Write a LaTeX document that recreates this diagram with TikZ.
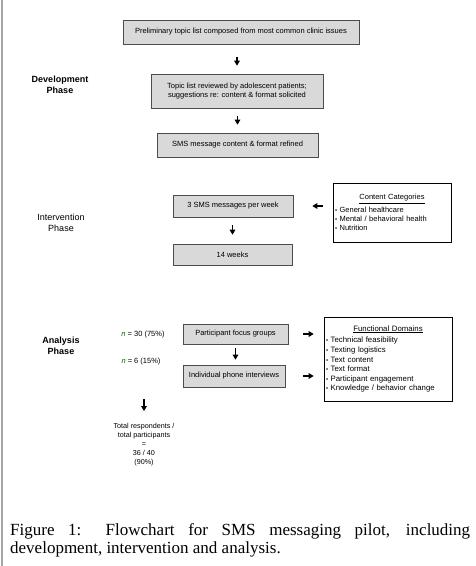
\documentclass[tikz,border=0pt]{standalone}
\usepackage{fontspec}
\setmainfont{Liberation Sans}
\newfontfamily\capfont{Liberation Serif}
\usetikzlibrary{arrows.meta, shadows, calc, positioning}
\tikzstyle{stage}=[rectangle, draw=black!70, fill=black!15, line width=0.6pt, inner sep=2pt, align=center, font=\fontsize{7.5}{9}\selectfont, drop shadow={shadow xshift=0.8pt, shadow yshift=-0.8pt, fill=black!60, opacity=0.5}]
\tikzstyle{listbox}=[rectangle, draw=black, fill=white, line width=0.6pt, inner xsep=1pt, inner ysep=0pt, align=left, drop shadow={shadow xshift=0.8pt, shadow yshift=-0.8pt, fill=black!60, opacity=0.5}]
\tikzstyle{phase}=[align=center, font=\fontsize{9}{11}\selectfont]
\tikzstyle{flow}=[-{Triangle[length=5pt, width=5.5pt]}, line width=1.4pt]
\newcommand{\itm}{{\fontsize{6}{6}\selectfont\textbullet}\ }

\begin{document}
\begin{tikzpicture}[x=1pt, y=-1pt]

\useasboundingbox (0,0) rectangle (476,566);
\fill[white] (0,0) rectangle (476,566);
\draw[black!35, line width=2pt] (2,0) -- (2,566);

% phase labels
\node[phase, font=\fontsize{9}{11}\selectfont\bfseries] (dev) at (60,85) {Development\\Phase};
\node[phase] (int) at (61,223) {Intervention\\Phase};
\node[phase, font=\fontsize{9}{11}\selectfont\bfseries] (ana) at (61,346) {Analysis\\Phase};

% development
\node[stage, minimum width=236pt, minimum height=24pt] (prelim) at (241,32) {Preliminary topic list composed from most common clinic issues};
\node[stage, minimum width=172pt, minimum height=34pt] (review) at (237,91) {Topic list reviewed by adolescent patients;\\suggestions re: content \& format solicited};
\node[stage, minimum width=161pt, minimum height=24pt] (refine) at (237.5,145) {SMS message content \& format refined};

% intervention
\node[stage, minimum width=120pt, minimum height=22pt] (perweek) at (233,206) {3 SMS messages per week};
\node[stage, minimum width=119pt, minimum height=21pt] (weeks) at (232.5,254.5) {14 weeks};
\node[listbox, minimum width=118pt, minimum height=59pt, text width=114pt, font=\fontsize{7.5}{8.7}\selectfont] (content) at (392,212.5) {\makebox[114pt]{\underline{Content Categories}}\\[3pt]\itm General healthcare\\\itm Mental / behavioral health\\\itm Nutrition};

% analysis
\node[font=\fontsize{7.5}{9}\selectfont] (n30) at (143,335) {\textcolor{green!40!black}{\textit{n}} = 30 (75\%)};
\node[font=\fontsize{7.5}{9}\selectfont] (n6) at (141,362) {\textcolor{green!40!black}{\textit{n}} = 6 (15\%)};
\node[stage, minimum width=105pt, minimum height=20pt] (focus) at (235.5,334) {Participant focus groups};
\node[stage, minimum width=102pt, minimum height=22pt] (phone) at (234,376) {Individual phone interviews};
\node[listbox, minimum width=128pt, minimum height=84pt, text width=124pt, font=\fontsize{7.8}{9.6}\selectfont] (domains) at (388,359) {\makebox[124pt]{\underline{Functional Domains}}\\[2pt]\itm Technical feasibility\\\itm Texting logistics\\\itm Text content\\\itm Text format\\\itm Participant engagement\\\itm Knowledge / behavior change};
\node[align=center, font=\fontsize{7.2}{9}\selectfont] (total) at (144,445) {Total respondents /\\total participants\\=\\36 / 40\\(90\%)};

% arrows
\draw[flow, shorten <=13pt, shorten >=8pt] (prelim.south -| review.north) -- (review.north);
\draw[flow, shorten <=8pt, shorten >=8pt] (review.south -| refine.north) -- (refine.north);
\draw[flow, shorten <=8pt, shorten >=9pt] (perweek.south -| weeks.north) -- (weeks.north);
\draw[flow, shorten <=10pt, shorten >=19pt] (content.west |- perweek.east) -- (perweek.east);
\draw[flow, shorten <=4pt, shorten >=5pt] (focus.south) -- (focus.south |- phone.north);
\draw[flow, shorten <=15pt, shorten >=10pt] (focus.east) -- (focus.east -| domains.west);
\draw[flow, shorten <=18pt, shorten >=10pt] (phone.east) -- (phone.east -| domains.west);
\draw[flow, shorten <=30pt, shorten >=9pt] (n6.south -| total.north) -- (total.north);

% caption
\node[anchor=base west, inner sep=0pt, text width=460pt, align=justify, font=\capfont\fontsize{17}{18}\selectfont] (cap) at (10,535) {Figure 1: Flowchart for SMS messaging pilot, including\linebreak development, intervention and analysis.};

\end{tikzpicture}
\end{document}
